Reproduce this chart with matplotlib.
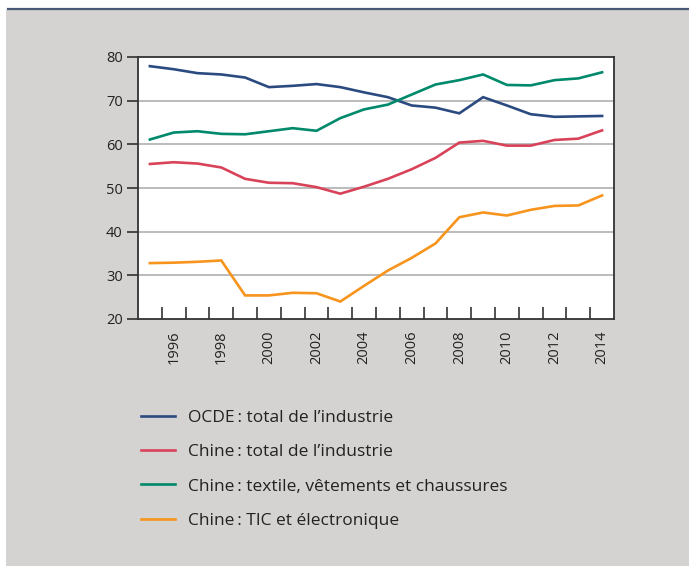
import matplotlib
matplotlib.use('Agg')
import matplotlib.pyplot as plt
from matplotlib.patches import Rectangle
from matplotlib.lines import Line2D

plt.rcParams['font.family'] = ['Open Sans', 'DejaVu Sans']

# Data
years = list(range(1995, 2015))
ocde_total = [77.9, 77.2, 76.3, 76.0, 75.3, 73.1, 73.4, 73.8, 73.1, 71.9,
              70.8, 68.9, 68.4, 67.1, 70.8, 68.9, 66.9, 66.3, 66.4, 66.5]
chine_total = [55.5, 55.9, 55.6, 54.7, 52.1, 51.2, 51.1, 50.2, 48.7, 50.3,
               52.1, 54.3, 56.9, 60.4, 60.8, 59.7, 59.7, 61.0, 61.3, 63.2]
chine_textile = [61.1, 62.7, 63.0, 62.4, 62.3, 63.0, 63.7, 63.1, 66.0, 68.0,
                 69.1, 71.4, 73.7, 74.7, 76.0, 73.6, 73.5, 74.7, 75.1, 76.5]
chine_tic = [32.8, 32.9, 33.1, 33.4, 25.4, 25.4, 26.0, 25.9, 24.0, 27.6,
             31.1, 34.0, 37.3, 43.3, 44.4, 43.7, 45.0, 45.9, 46.0, 48.3]

labels = ['OCDE\u2009: total de l\u2019industrie',
          'Chine\u2009: total de l\u2019industrie',
          'Chine\u2009: textile, vêtements et chaussures',
          'Chine\u2009: TIC et électronique']
colors = ['#2b4b80', '#d8435a', '#00896b', '#f7941d']
series = [ocde_total, chine_total, chine_textile, chine_tic]

fig = plt.figure(figsize=(6.89, 5.66), dpi=100)
fig.patch.set_facecolor('white')

# gray panel and top rule
fig.patches.append(Rectangle((6 / 689, 0), 1, 1 - 10 / 566, transform=fig.transFigure,
                             facecolor='#d4d3d1', edgecolor='none', zorder=-5))
fig.lines.append(Line2D([8 / 689, 1], [1 - 9 / 566, 1 - 9 / 566], transform=fig.transFigure,
                        color='#4a5878', linewidth=1.6, zorder=-4))

ax = fig.add_axes([138 / 689, 1 - 319 / 566, 476 / 689, 262 / 566])
ax.set_zorder(2)
ax.set_facecolor('white')

for vals, c, lab in zip(series, colors, labels):
    ax.plot(years, vals, color=c, linewidth=1.9, label=lab, solid_joinstyle='miter')

ax.set_xlim(1994.5, 2014.5)
ax.set_ylim(20, 80)
ax.set_yticks([20, 30, 40, 50, 60, 70, 80])
for y in [30, 40, 50, 60, 70]:
    ax.axhline(y, color='#a8a8a8', linewidth=1.1, zorder=0)

ax.set_xticks(list(range(1996, 2015, 2)))
ax.set_xticklabels([str(y) for y in range(1996, 2015, 2)], rotation=90)
ax.set_xticks([y + 0.5 for y in range(1995, 2014)], minor=True)
ax.tick_params(axis='x', which='major', length=0, pad=8, labelsize=10.5, labelcolor='#222222')
ax.tick_params(axis='x', which='minor', direction='in', length=9, width=1.1, color='#222222')
ax.tick_params(axis='y', direction='out', length=8, width=1.1, color='#222222',
               labelsize=10.5, labelcolor='#222222', pad=3)

for s in ax.spines.values():
    s.set_color('#333333')
    s.set_linewidth(1.3)

fig.legend(loc='upper left', bbox_to_anchor=(125 / 689, 1 - 394 / 566), frameon=False,
           fontsize=12.5, handlelength=2.0, handletextpad=0.7, labelspacing=1.05,
           labelcolor='#222222')

fig.savefig('out.png', dpi=100, facecolor=fig.get_facecolor())
